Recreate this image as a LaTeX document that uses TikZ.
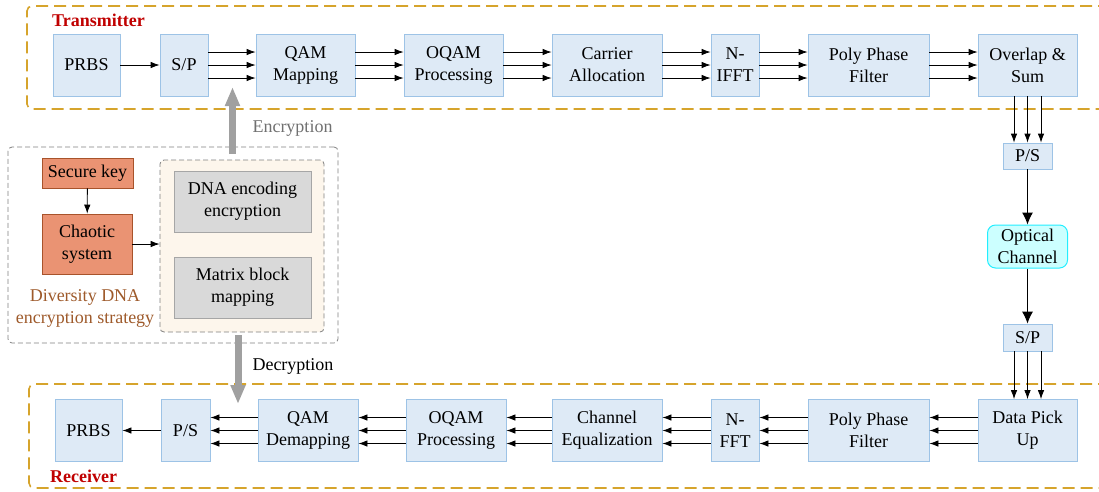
\documentclass[tikz,border=0pt]{standalone}
\usepackage{fontspec}
\setmainfont{Liberation Serif}
\usetikzlibrary{arrows.meta}
\definecolor{bluef}{HTML}{DEEAF6}
\definecolor{blueb}{HTML}{9DC3E6}
\definecolor{salf}{HTML}{EA9373}
\definecolor{salb}{HTML}{A8532B}
\definecolor{grayf}{HTML}{D9D9D9}
\definecolor{grayb}{HTML}{A6A6A6}
\definecolor{innerf}{HTML}{FDF6EC}
\definecolor{gold}{HTML}{D6A42C}
\definecolor{lblred}{HTML}{C00000}
\definecolor{brownt}{HTML}{9E5A2B}
\definecolor{bigarrow}{HTML}{A0A0A0}
\definecolor{enctext}{HTML}{707070}
\definecolor{optf}{HTML}{CCFFFF}
\definecolor{optb}{HTML}{22EEFF}
\begin{document}
\begin{tikzpicture}[x=1pt,y=-1pt,
  txt/.style={font=\fontsize{18}{22}\selectfont, align=center, inner sep=0pt},
  blk/.style={txt, draw=blueb, fill=bluef, line width=0.8pt, minimum height=62pt},
  keyblk/.style={txt, draw=salb, fill=salf, line width=0.8pt},
  grayblk/.style={txt, draw=grayb, fill=grayf, line width=0.8pt, minimum width=137pt, minimum height=61pt},
  arr/.style={-{Latex[length=9pt,width=6.5pt]}, line width=0.8pt},
  bigarr/.style={-{Latex[length=12pt,width=11pt]}, line width=1pt},
  goldline/.style={draw=gold, line width=1.6pt, dash pattern=on 12pt off 6pt, rounded corners=5pt},
  graydash/.style={draw=gray, line width=0.8pt, dash pattern=on 5pt off 3pt, rounded corners=4pt},
  fatarr/.style={draw=bigarrow, line width=7pt, -{Triangle[length=19pt,width=14pt]}},
  lbl/.style={font=\fontsize{18}{22}\selectfont\bfseries, text=lblred, inner sep=0pt, anchor=west}
]
\useasboundingbox (0,0) rectangle (1099,491);

% dashed group frames
\draw[goldline] (1110,6) -- (27,6) -- (27,109) -- (1110,109);
\draw[goldline] (1110,384) -- (29,384) -- (29,488) -- (1110,488);
\node[lbl] (txlbl) at (52,20) {Transmitter};
\node[lbl] (rxlbl) at (50,476) {Receiver};

% transmitter row
\node[blk, minimum width=67pt] (tprbs) at (86.5,65) {PRBS};
\node[blk, minimum width=48pt] (tsp) at (184,65) {S/P};
\node[blk, minimum width=99pt] (tqam) at (305.5,65) {QAM\\Mapping};
\node[blk, minimum width=99pt] (toqam) at (453.5,65) {OQAM\\Processing};
\node[blk, minimum width=110pt] (tcar) at (607,65) {Carrier\\Allocation};
\node[blk, minimum width=48pt] (tifft) at (735,65) {N-\\IFFT};
\node[blk, minimum width=121pt] (tppf) at (868.5,65) {Poly Phase\\Filter};
\node[blk, minimum width=99pt] (tovl) at (1027.5,65) {Overlap \&\\Sum};

\draw[arr] (tprbs) -- (tsp);
\foreach \a/\b in {tsp/tqam,tqam/toqam,toqam/tcar,tcar/tifft,tifft/tppf,tppf/tovl}
  \foreach \d in {-13,0,13}
    \draw[arr] ([yshift=\d pt]\a.east) -- ([yshift=\d pt]\b.west);

% channel column
\node[blk, minimum width=49pt, minimum height=26pt] (tps) at (1027.5,156) {P/S};
\node[txt, draw=optb, fill=optf, line width=1pt, rounded corners=8pt, minimum width=80pt, minimum height=43pt] (opt) at (1027.5,246.5) {Optical\\Channel};
\node[blk, minimum width=49pt, minimum height=27pt] (rsp) at (1027.5,337.5) {S/P};

% receiver row
\node[blk, minimum width=67pt] (rprbs) at (88.5,430.5) {PRBS};
\node[blk, minimum width=49pt] (rps) at (185.5,430.5) {P/S};
\node[blk, minimum width=100pt] (rqam) at (308,430.5) {QAM\\Demapping};
\node[blk, minimum width=100pt] (roqam) at (456,430.5) {OQAM\\Processing};
\node[blk, minimum width=110pt] (rceq) at (607,430.5) {Channel\\Equalization};
\node[blk, minimum width=48pt] (rfft) at (735,430.5) {N-\\FFT};
\node[blk, minimum width=121pt] (rppf) at (868.5,430.5) {Poly Phase\\Filter};
\node[blk, minimum width=99pt] (rdpu) at (1027.5,430.5) {Data Pick\\Up};

\foreach \d in {-13.5,0,13.5} {
  \draw[arr] ([xshift=\d pt]tovl.south) -- ([xshift=\d pt]tps.north);
  \draw[arr] ([xshift=\d pt]rsp.south) -- ([xshift=\d pt]rdpu.north);
}
\draw[bigarr] (tps) -- (opt);
\draw[bigarr] (opt) -- (rsp);

\foreach \a/\b in {rdpu/rppf,rppf/rfft,rfft/rceq,rceq/roqam,roqam/rqam,rqam/rps}
  \foreach \d in {-13,0,13}
    \draw[arr] ([yshift=\d pt]\a.west) -- ([yshift=\d pt]\b.east);
\draw[arr] (rps) -- (rprbs);

% encryption strategy block
\node[graydash, minimum width=330pt, minimum height=196pt] (outer) at (173,245) {};
\node[graydash, fill=innerf, minimum width=164pt, minimum height=172pt] (inner) at (242,246) {};
\node[keyblk, minimum width=91pt, minimum height=30pt] (key) at (87.5,173) {Secure key};
\node[keyblk, minimum width=90pt, minimum height=60pt] (chaos) at (87,244) {Chaotic\\system};
\node[grayblk] (dna) at (242.5,201.5) {DNA encoding\\encryption};
\node[grayblk] (mbm) at (242.5,287.5) {Matrix block\\mapping};
\node[txt, text=brownt] (div) at (85,308.5) {Diversity DNA\\encryption strategy};
\draw[arr] (key) -- (chaos);
\draw[arr] (chaos.east) -- (chaos.east -| inner.west);

% encryption / decryption arrows
\coordinate (encbot) at (232.5,154);
\coordinate (enctip) at (232.5,87);
\coordinate (decbot) at (238,335);
\coordinate (dectip) at (238,404);
\draw[fatarr] (encbot) -- (enctip);
\draw[fatarr] (decbot) -- (dectip);
\node[txt, text=enctext] (enc) at (292.5,128) {Encryption};
\node[txt] (dec) at (293,366) {Decryption};
\end{tikzpicture}
\end{document}
